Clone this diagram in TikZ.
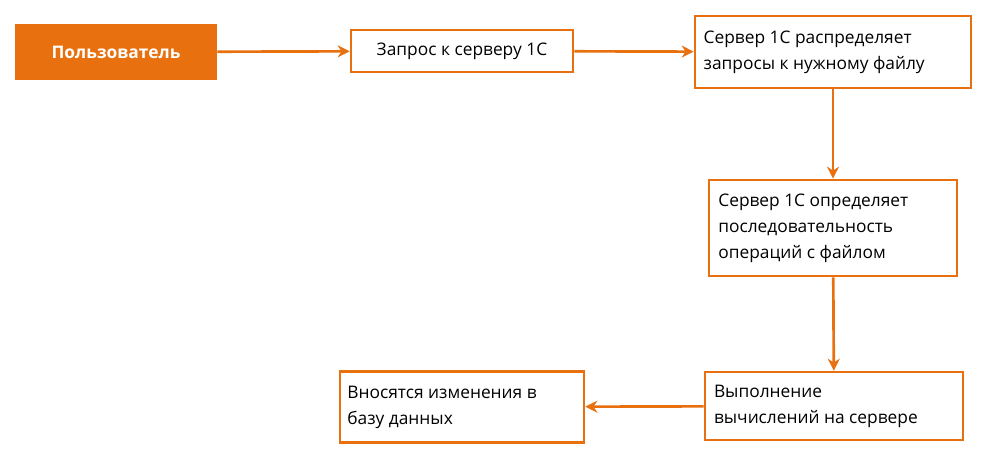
\documentclass[tikz,border=0pt]{standalone}
\usepackage{fontspec}
\setmainfont{Open Sans}
\usepackage{tikz}
\usetikzlibrary{arrows.meta}
\definecolor{orng}{HTML}{E8700E}
\tikzset{
  box/.style={draw=orng,line width=2pt,fill=white,inner sep=0pt,align=left,font=\fontsize{13}{19.5}\selectfont},
  arr/.style={draw=orng,line width=2pt,-{Stealth[length=9pt,width=9pt]}}
}
\begin{document}
\begin{tikzpicture}[x=0.75pt,y=-0.75pt]
       \useasboundingbox (0,0) rectangle (989,461);%рамка
       \node[fill=orng,text=white,font=\fontsize{13}{19.5}\selectfont\bfseries,minimum width=151.5pt,minimum height=42pt](user)at(116,52){Пользователь};%пользователь
       \node[box,minimum width=166.5pt,minimum height=31.5pt,align=center](req)at(462,51){Запрос к серверу 1С};%запрос
       \node[box,minimum width=207pt,minimum height=54pt](dist)at(833,52){\parbox{194pt}{Сервер 1С распределяет\\запросы к нужному файлу}};%распределение
       \node[box,minimum width=186pt,minimum height=72pt](ops)at(833,228){\parbox{172pt}{Сервер 1С определяет\\последовательность\\операций с файлом}};%операции
       \node[box,minimum width=193.5pt,minimum height=51pt](calc)at(834,406){\parbox{180pt}{Выполнение\\вычислений на сервере}};%вычисления
       \node[box,minimum width=183pt,minimum height=53pt](db)at(462,407){\parbox{172pt}{Вносятся изменения в\\базу данных}};%база

       \draw[arr](user)--(req);
       \draw[arr](req)--(dist);
       \draw[arr](dist)--(ops);
       \draw[arr](ops)--(calc);
       \draw[arr](calc)--(db);
      \end{tikzpicture}
\end{document}
